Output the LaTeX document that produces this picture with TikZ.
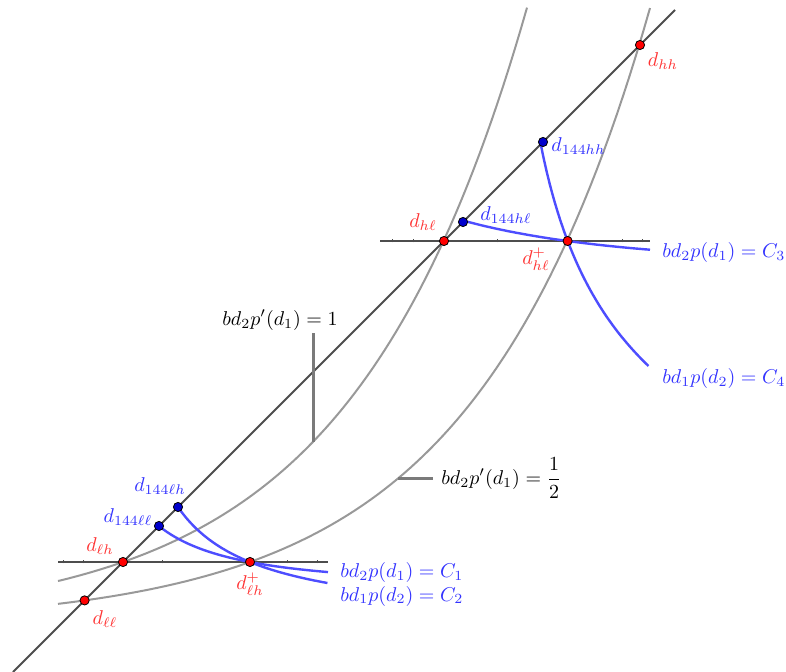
\documentclass[tikz,border=0pt]{standalone}
\usepackage{xcolor}
\usepackage{tikz}
\definecolor{DPRed}{HTML}{FF0000}
\definecolor{DPRedText}{HTML}{FF3333}
\definecolor{DPBlue}{HTML}{0000CC}
\definecolor{DPBlueLine}{HTML}{4D4DFF}
\definecolor{DPBlueText}{HTML}{3333FF}
\definecolor{DPGray}{HTML}{999999}
\definecolor{DPLeader}{HTML}{7A7A7A}
\definecolor{DPLine}{HTML}{4D4D4D}

\begin{document}
\begin{tikzpicture}[x=0.5pt,y=-0.5pt,
  axisline/.style={DPLine,line width=1pt},
  graycurve/.style={DPGray,line width=1pt},
  bluecurve/.style={DPBlueLine,line width=1.2pt},
  leader/.style={DPLeader,line width=1.5pt},
  tick/.style={DPLine,line width=0.5pt},
  redpt/.style={circle,fill=DPRed,draw=black,line width=0.4pt,inner sep=0pt,minimum size=4.6pt},
  bluept/.style={circle,fill=DPBlue,draw=black,line width=0.4pt,inner sep=0pt,minimum size=4.6pt},
  redlab/.style={text=DPRedText,inner sep=0pt},
  bluelab/.style={text=DPBlueText,inner sep=0pt},
  blacklab/.style={text=black,inner sep=0pt}]
\path[use as bounding box] (0,0) rectangle (786,672);
\begin{scope}[shift={(61,624)},yscale=-1]
\coordinate (diagS) at (-48,-48);
\coordinate (diagE) at (614,614);
\coordinate (lowL) at (-3,62);
\coordinate (lowR) at (267,62);
\coordinate (upL) at (319,383);
\coordinate (upR) at (589,383);
\coordinate (dll) at (23.6,23.6);
\coordinate (dlh) at (62,62);
\coordinate (dhl) at (383,383);
\coordinate (dhh) at (579,579);
\coordinate (dlhp) at (189,62);
\coordinate (dhlp) at (506.6,383);
\coordinate (dll144) at (98,98);
\coordinate (dlh144) at (117,117);
\coordinate (dhl144) at (402,402);
\coordinate (dhh144) at (482,482);
\coordinate (lead1) at (252,{0.6+43.1*exp(0.0057*252)});
\coordinate (lead1top) at (252,291);
\coordinate (lead2) at (337,{-0.9+21.4*exp(0.0057*337)});
\coordinate (lead2end) at (372,{-0.9+21.4*exp(0.0057*337)});
\draw[graycurve] plot[domain=-3:466,samples=80] (\x,{0.6+43.1*exp(0.0057*\x)});
\draw[graycurve] plot[domain=-3:589,samples=90] (\x,{-0.9+21.4*exp(0.0057*\x)});
\draw[axisline] (diagS) -- (diagE);
\draw[axisline] (lowL) -- (lowR);
\draw[axisline] (upL) -- (upR);
\foreach \t in {2,22,101,226,256} \draw[tick] (\t,60.5) -- (\t,63.5);
\foreach \t in {331,352,436,561,581} \draw[tick] (\t,381.5) -- (\t,384.5);
\draw[leader] (lead1) -- (lead1top);
\draw[leader] (lead2) -- (lead2end);
\draw[bluecurve] plot[domain=98:267,samples=60] (\x,{39.09/(0.971-exp(-0.0057*\x))});
\draw[bluecurve] plot[domain=117:41,samples=60] ({58.08/(1.0096-exp(-0.0057*\x))},\x);
\draw[bluecurve] plot[domain=402:589,samples=60] (\x,{342.6/(0.95-exp(-0.0057*\x))});
\draw[bluecurve] plot[domain=482:258,samples=60] ({431/(0.963-exp(-0.0057*\x))},\x);
\end{scope}
\node[redpt] (dll-pt) at (dll) {};
\node[redpt] (dlh-pt) at (dlh) {};
\node[redpt] (dhl-pt) at (dhl) {};
\node[redpt] (dhh-pt) at (dhh) {};
\node[redpt] (dlhp-pt) at (dlhp) {};
\node[redpt] (dhlp-pt) at (dhlp) {};
\node[bluept] (dll144-pt) at (dll144) {};
\node[bluept] (dlh144-pt) at (dlh144) {};
\node[bluept] (dhl144-pt) at (dhl144) {};
\node[bluept] (dhh144-pt) at (dhh144) {};
\node[redlab] (dhh-lab) at (663,61) {$d_{hh}$};
\node[bluelab,anchor=west] (dhh144-lab) at (551,146) {$d_{144hh}$};
\node[bluelab] (dhl144-lab) at (506,215) {$d_{144h\ell}$};
\node[redlab] (dhl-lab) at (423,222) {$d_{h\ell}$};
\node[redlab] (dhlp-lab) at (536,259) {$d^+_{h\ell}$};
\node[bluelab,anchor=west] (c3-lab) at (662,253) {$bd_2p(d_1)=C_3$};
\node[bluelab,anchor=west] (c4-lab) at (662,379) {$bd_1p(d_2)=C_4$};
\node[blacklab] (one-lab) at (280,320) {$bd_2p'(d_1)=1$};
\node[blacklab,anchor=west] (half-lab) at (441,478) {$\displaystyle bd_2p'(d_1)=\frac{1}{2}$};
\node[bluelab] (dlh144-lab) at (160,486) {$d_{144\ell h}$};
\node[bluelab] (dll144-lab) at (128,517) {$d_{144\ell\ell}$};
\node[redlab] (dlh-lab) at (100,546) {$d_{\ell h}$};
\node[redlab] (dlhp-lab) at (250,584) {$d^+_{\ell h}$};
\node[redlab] (dll-lab) at (105,619) {$d_{\ell\ell}$};
\node[bluelab,anchor=west] (c1-lab) at (340,573) {$bd_2p(d_1)=C_1$};
\node[bluelab,anchor=west] (c2-lab) at (340,596) {$bd_1p(d_2)=C_2$};
\end{tikzpicture}
\end{document}
